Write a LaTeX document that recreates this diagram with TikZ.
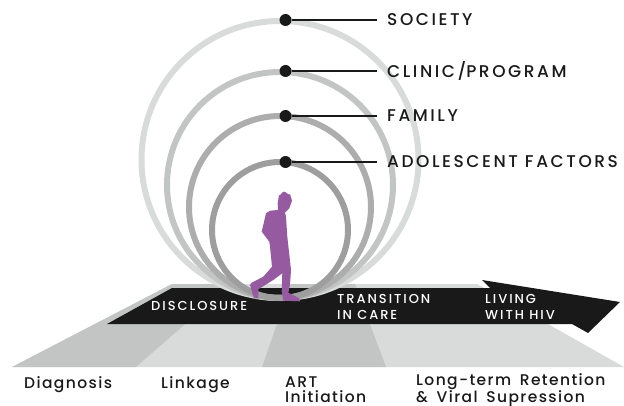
\documentclass[tikz,border=0pt]{standalone}
\usepackage{fontspec}
\setmainfont{Poppins Medium}[LetterSpace=9, WordSpace=1.6]
\newfontfamily\capsfont{Poppins Medium}[LetterSpace=15]
\usetikzlibrary{calc}
\definecolor{floorlight}{HTML}{D9DBDA}
\definecolor{floordark}{HTML}{C3C5C4}
\definecolor{ramp}{HTML}{191919}
\definecolor{walker}{HTML}{965AA0}
\tikzset{
  dot/.style = {circle, fill=ramp, minimum size=12pt, inner sep=0pt},
  levelname/.style = {anchor=west, inner xsep=10pt, inner ysep=0pt, font=\capsfont\fontsize{17}{17}\selectfont, text=ramp},
  stagename/.style = {anchor=base west, inner sep=0pt, align=left, font=\fontsize{15.5}{15.5}\selectfont, text=ramp},
  rampname/.style = {anchor=base west, inner sep=0pt, align=left, font=\capsfont\fontsize{13}{16}\selectfont, text=white},
}
\begin{document}
\begin{tikzpicture}[x=1pt, y=-1pt]
    % Parametri
    \pgfmathsetmacro{\cx}{280}
    \pgfmathsetmacro{\dotx}{285.5}
    \pgfmathsetmacro{\base}{298}
    \useasboundingbox (0,0) rectangle (624,406);
    % Floor
    \fill[floorlight] (12,367) -- (172,284) -- (477,284) -- (624,367) -- cycle;
    \fill[floordark] (12,367) -- (172,284) -- (231,284) -- (136,367) -- cycle;
    \fill[floordark] (262,367) -- (291,284) -- (355,284) -- (386,367) -- cycle;
    % Arrow
    \fill[ramp] (107,324) -- (172,288) -- (490,288) -- (482,280) -- (620,302) -- (588,333) -- (572,324) -- cycle;
    % Rings
    \foreach \rad/\shade in {138.5/floorlight, 113/floordark, 91/black!32, 68/black!38} {
        \draw[line width=6pt, \shade] (\cx,\base-\rad) circle[radius=\rad];
    }
    % Walker
    \fill[walker] (277.7,203.3) -- (279,195) to[out=-70, in=180] (284,191.7) to[out=0, in=-110] (290,194) -- (292,200.7) -- (289.3,208.3) -- (285,212.7) -- (286,216.7) -- (287.3,236.7) -- (291,270) -- (290,285) -- (288.3,292.7) -- (299.3,298.3) -- (300,301.3) -- (283.3,300.7) -- (281.7,291.7) -- (282.3,273.3) -- (273.3,280) -- (258.3,289.3) -- (258.3,298.3) -- (254,298.3) -- (250,285) -- (251.7,282.7) -- (263.3,276.7) -- (272,266.7) -- (270,246.7) -- (269.3,241.7) -- (261.7,231.7) -- (266,213.3) -- (270,210.7) -- (278,210) -- cycle;
    % Levels
    \foreach \ring/\top/\txt in {society/20/SOCIETY, clinic/71/CLINIC\slash PROGRAM, family/116/FAMILY, factors/162/ADOLESCENT FACTORS} {
        \node[dot] (\ring) at (\dotx,\top) {};
        \node[levelname] (\ring name) at (377,\top) {\txt};
        \draw[line width=2pt, ramp] (\ring) -- (\ring name);
    }
    % Arrow labels
    \node[rampname] (disclosure) at (151,310) {DISCLOSURE};
    \node[rampname] (transition) at (337,319) {TRANSITION\\IN CARE};
    \node[rampname] (living) at (485,319) {LIVING\\WITH HIV};
    % Stages
    \node[stagename] (diagnosis) at (24,388) {Diagnosis};
    \node[stagename] (linkage) at (161,388) {Linkage};
    \node[stagename] (initiation) at (285,402.5) {ART\\Initiation};
    \node[stagename] (retention) at (416,402.5) {Long-term Retention\\\& Viral Supression};
\end{tikzpicture}
\end{document}
